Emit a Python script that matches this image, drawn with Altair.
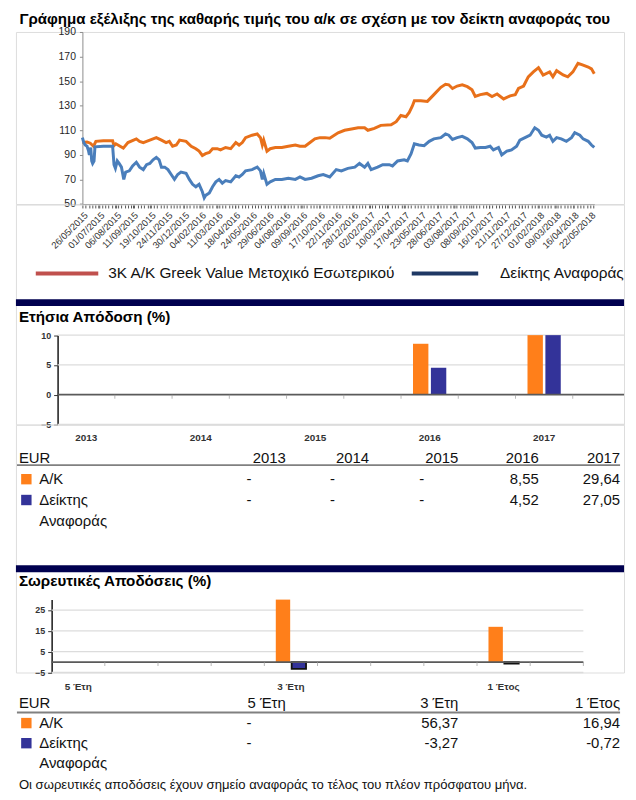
import json
import altair as alt
import pandas as pd

FONT = "Liberation Sans"

TITLE = "Γράφημα εξέλιξης της καθαρής τιμής του α/κ σε σχέση με τον δείκτη αναφοράς του"
FUND_NAME = "3K A/K Greek Value Μετοχικό Εσωτερικού"
BENCH_NAME = "Δείκτης Αναφοράς"
SECTION1 = "Ετήσια Απόδοση (%)"
SECTION2 = "Σωρευτικές Αποδόσεις (%)"
FOOTNOTE = "Οι σωρευτικές αποδόσεις έχουν σημείο αναφοράς το τέλος του πλέον πρόσφατου μήνα."
AK = "A/K"
IDX = "Δείκτης Αναφοράς"

# ---- price evolution ----
ak_dates = ["2015-05-26","2015-06-05","2015-06-12","2015-06-19","2015-06-24","2015-07-10","2015-07-30","2015-08-02","2015-08-06","2015-08-15","2015-08-22","2015-09-01","2015-09-19","2015-09-26","2015-10-04","2015-10-11","2015-10-25","2015-11-01","2015-11-12","2015-11-22","2015-11-29","2015-12-06","2015-12-14","2015-12-21",
            "2016-01-04","2016-01-15","2016-01-25","2016-02-01","2016-02-08","2016-02-15","2016-02-23","2016-03-01","2016-03-11","2016-03-18","2016-03-29","2016-04-09","2016-04-20","2016-04-27","2016-05-04","2016-05-11","2016-05-25","2016-06-05","2016-06-12","2016-06-16","2016-06-19","2016-06-26","2016-07-03","2016-07-14","2016-07-28","2016-08-11","2016-08-26","2016-09-05","2016-09-16","2016-09-23","2016-10-07","2016-10-18","2016-10-29","2016-11-08","2016-11-26","2016-12-10","2016-12-25",
            "2017-01-08","2017-01-22","2017-01-29","2017-02-12","2017-02-26","2017-03-20","2017-03-31","2017-04-10","2017-04-21","2017-04-28","2017-05-05","2017-05-09","2017-05-23","2017-06-06","2017-06-20","2017-07-05","2017-07-15","2017-07-22","2017-07-30","2017-08-09","2017-08-20","2017-08-31","2017-09-10","2017-09-17","2017-09-28","2017-10-12","2017-10-23","2017-11-03","2017-11-17","2017-12-01","2017-12-12","2017-12-19","2017-12-30",
            "2018-01-09","2018-01-20","2018-01-31","2018-02-10","2018-02-24","2018-03-03","2018-03-11","2018-03-25","2018-04-04","2018-04-15","2018-04-26","2018-05-07","2018-05-18","2018-05-25","2018-05-31"]
ak_values = [100,100.5,99.5,97,101,101.5,101.5,97.5,99,97,95.5,100,103,101,100,101,103,104,102,100,101,97,98,102,
             101,97,95,93,89.5,91,92,95,95,94,96,95,100,98,100,104,106,107,104,98,102,93,95,96,96,97,98,97,97,99,103,104,104,103.5,108,110,111,
             112,112,110,111.5,114,114.5,117,122,121,124.5,130,134,134,133.5,139,145,147.5,147,144,146,147,145.5,143,137.5,139,140,137.5,139.5,135.5,138,139,144,146,
             153.5,157.5,161,155,157.5,153.5,158.5,155,153.5,157.5,164.5,163,161.5,160,156]

idx_dates = ["2015-05-26","2015-05-29","2015-06-01","2015-06-05","2015-06-08","2015-06-10","2015-06-13","2015-06-15","2015-06-17","2015-06-20","2015-06-22","2015-07-10","2015-07-30","2015-08-02","2015-08-05","2015-08-09","2015-08-13","2015-08-18","2015-08-23","2015-08-27","2015-09-04","2015-09-11","2015-09-19","2015-09-26","2015-10-04","2015-10-11","2015-10-18","2015-10-25","2015-11-01","2015-11-07","2015-11-12","2015-11-19","2015-11-26","2015-12-03","2015-12-10","2015-12-17","2015-12-24",
             "2016-01-04","2016-01-11","2016-01-18","2016-01-25","2016-02-01","2016-02-08","2016-02-12","2016-02-15","2016-02-23","2016-03-01","2016-03-08","2016-03-15","2016-03-22","2016-03-29","2016-04-09","2016-04-20","2016-04-27","2016-05-04","2016-05-11","2016-05-25","2016-06-05","2016-06-12","2016-06-16","2016-06-19","2016-06-26","2016-07-03","2016-07-14","2016-07-28","2016-08-11","2016-08-26","2016-09-05","2016-09-16","2016-09-30","2016-10-14","2016-10-25","2016-11-08","2016-11-22","2016-12-03","2016-12-17",
             "2017-01-01","2017-01-11","2017-01-22","2017-01-29","2017-02-05","2017-02-19","2017-03-02","2017-03-16","2017-03-23","2017-04-03","2017-04-17","2017-04-24","2017-05-02","2017-05-09","2017-05-19","2017-05-30","2017-06-10","2017-06-20","2017-07-05","2017-07-15","2017-07-22","2017-07-30","2017-08-09","2017-08-20","2017-08-31","2017-09-10","2017-09-17","2017-09-28","2017-10-09","2017-10-19","2017-10-26","2017-11-06","2017-11-13","2017-11-24","2017-12-04","2017-12-15","2017-12-22",
             "2018-01-02","2018-01-13","2018-01-23","2018-01-31","2018-02-07","2018-02-17","2018-02-24","2018-03-03","2018-03-11","2018-03-21","2018-04-01","2018-04-12","2018-04-19","2018-04-30","2018-05-07","2018-05-18","2018-05-25","2018-05-31"]
idx_values = [104,100,98,97,93.5,90,96,85,83,85,96.5,97,97,82,79,85,83,80,70,76,77,81,84,80,78,82,83,86,88,86,80,80,78,74,70,74,76,
              75,70,66,64,66,60,55,57,59,64,68,70,67,69,68,73,72,74,77,78,80,77,70,75,66,68,70,70,71,70,72,70,71,73,74,72,78,77,79,
              80,83,80,83,78,80,82,82,81,85,86,85,91,99,98,97.5,101,103,104,107,106,102.5,104,105,103,100,95.5,96,96,97,94,96,90,93,94,97,102,
              104,106,112,110,106,104.5,106,101,104,103,101,104,108,106,103,101,98,96]

tick_label_dates = ["26/05/2015","01/07/2015","06/08/2015","11/09/2015","19/10/2015","24/11/2015","30/12/2015",
                    "04/02/2016","11/03/2016","18/04/2016","24/05/2016","29/06/2016","04/08/2016","09/09/2016",
                    "17/10/2016","22/11/2016","28/12/2016","02/02/2017","10/03/2017","17/04/2017","23/05/2017",
                    "28/06/2017","03/08/2017","08/09/2017","16/10/2017","21/11/2017","27/12/2017","01/02/2018",
                    "09/03/2018","16/04/2018","22/05/2018"]

# ---- annual returns ----
years = ["2013", "2014", "2015", "2016", "2017"]
ak_annual = [None, None, None, 8.55, 29.64]
idx_annual = [None, None, None, 4.52, 27.05]

# ---- cumulative returns ----
periods = ["5 Έτη", "3 Έτη", "1 Έτος"]
ak_cum = [None, 56.37, 16.94]
idx_cum = [None, -3.27, -0.72]

# ---- styles ----
LINE_OR = "#E8701A"
LINE_BL = "#4A7EBB"
LEG_RED = "#C0504D"
LEG_NAVY = "#1F3864"
BAR_OR = "#FF7F1A"
BAR_BL = "#333399"
NAVY = "#00004F"
TXT = "#111111"

W = 613
H1 = 173.4
H2 = 221.6
H3 = 249.7
YPX = {H2: 6.0, H3: 2.1}


def ms(ts):
    return int(pd.Timestamp(ts).tz_localize("UTC").value // 1_000_000)


def one(text=""):
    return pd.DataFrame({"t": [text]})


def fmt(v):
    return "-" if v is None else f"{v:.2f}".replace(".", ",")


# ================= Panel 1: line chart =================
line_df = pd.concat([
    pd.DataFrame({"date": ak_dates, "value": ak_values, "series": FUND_NAME}),
    pd.DataFrame({"date": idx_dates, "value": idx_values, "series": BENCH_NAME}),
], ignore_index=True)

label_ms = [ms(pd.to_datetime(d, format="%d/%m/%Y")) for d in tick_label_dates]
weekly_ms = [ms(t) for t in pd.date_range("2015-05-26", "2018-05-31", freq="7D")]
tick_values = sorted(set(label_ms + weekly_ms))
labels_js = json.dumps(tick_label_dates, ensure_ascii=False)

xs1 = alt.Scale(type="utc", domain=[ms("2015-05-26"), ms("2018-05-31")], range=[67, 583])
ys1 = alt.Scale(domain=[50, 190], nice=False, zero=False)

lines = alt.Chart(line_df).mark_line(strokeWidth=3).encode(
    x=alt.X("date:T", scale=xs1, axis=alt.Axis(
        values=tick_values,
        labelExpr=f"indexof({labels_js}, utcFormat(datum.value, '%d/%m/%Y')) >= 0 ? utcFormat(datum.value, '%d/%m/%Y') : ''",
        labelAngle=-45, labelOverlap=False, labelFontSize=9.5, labelColor="#333333",
        labelFont=FONT, tickSize=4, tickColor="#555555", domainColor="#8C8C8C",
        labelPadding=2, title=None, grid=False)),
    y=alt.Y("value:Q", scale=ys1, axis=alt.Axis(
        values=list(range(50, 191, 20)), offset=-67, labelFontSize=10.5, labelColor="#262626",
        labelFont=FONT, tickSize=3, tickColor="#8C8C8C", domainColor="#8C8C8C",
        labelPadding=4, title=None, grid=False)),
    color=alt.Color("series:N", scale=alt.Scale(domain=[FUND_NAME, BENCH_NAME], range=[LINE_OR, LINE_BL]), legend=None),
)

frame = alt.Chart(one()).mark_rule(opacity=0, strokeWidth=0.5).encode(
    x=alt.value(-7), x2=alt.value(0), y=alt.value(-20.3))

title = alt.Chart(one(TITLE)).mark_text(align="left", baseline="top", font=FONT,
                                        fontSize=15.2, fontWeight="bold", color="#000000").encode(
    text="t:N", x=alt.value(3.5), y=alt.value(-19.6))

leg_r1 = alt.Chart(one()).mark_rule(color=LEG_RED, strokeWidth=4).encode(
    x=alt.value(20), x2=alt.value(83), y=alt.value(243.4))
leg_t1 = alt.Chart(one(FUND_NAME)).mark_text(align="left", baseline="middle", font=FONT,
                                             fontSize=15.5, color=TXT).encode(
    text="t:N", x=alt.value(93), y=alt.value(243.4))
leg_r2 = alt.Chart(one()).mark_rule(color=LEG_NAVY, strokeWidth=4).encode(
    x=alt.value(399), x2=alt.value(466), y=alt.value(243.4))
leg_t2 = alt.Chart(one(BENCH_NAME)).mark_text(align="left", baseline="middle", font=FONT,
                                              fontSize=15.5, color=TXT).encode(
    text="t:N", x=alt.value(488), y=alt.value(243.4))

p1 = alt.layer(frame, title, lines, leg_r1, leg_t1, leg_r2, leg_t2).properties(width=W, height=H1)

# ================= helpers for bar panels =================
COLX = [272, 356, 446, 527, 609]
ser_color = alt.Scale(domain=[AK, IDX], range=[BAR_OR, BAR_BL])
TXT_STYLE = dict(font=FONT, fontSize=15, color=TXT, baseline="middle")


def section(band_y, title_text, title_y):
    band = alt.Chart(one()).mark_rule(color=NAVY, strokeWidth=7).encode(
        x=alt.value(0), x2=alt.value(W), y=alt.value(band_y))
    ttl = alt.Chart(one(title_text)).mark_text(align="left", baseline="middle", font=FONT,
                                               fontSize=15.3, fontWeight="bold", color="#000000").encode(
        text="t:N", x=alt.value(3), y=alt.value(title_y))
    return [band, ttl]


def table(headers, cis, ak_vals, idx_vals, row_range, line_y):
    rows_sc = alt.Scale(type="point", domain=[0, 1, 2, 3], range=row_range, padding=0)
    col_sc = alt.Scale(domain=[0, 1, 2, 3, 4], range=COLX)
    cells = []
    for ci, h in zip(cis, headers):
        cells.append({"ci": ci, "row": 0, "t": h, "dash": False})
    for r, vals in ((1, ak_vals), (2, idx_vals)):
        for ci, v in zip(cis, vals):
            cells.append({"ci": ci, "row": r, "t": fmt(v), "dash": v is None})
    df = pd.DataFrame(cells)
    enc = dict(x=alt.X("ci:Q", scale=col_sc, axis=None),
               y=alt.Y("row:O", scale=rows_sc, axis=None), text="t:N")
    nums = alt.Chart(df[~df["dash"]].drop(columns="dash")).mark_text(align="right", **TXT_STYLE).encode(**enc)
    dashes = alt.Chart(df[df["dash"]].drop(columns="dash")).mark_text(align="center", dx=-37, **TXT_STYLE).encode(**enc)
    idx_words = IDX.split(" ")
    labs = alt.Chart(pd.DataFrame({"row": [1, 2, 3], "t": [AK, idx_words[0], idx_words[1]]})).mark_text(
        align="left", **TXT_STYLE).encode(
        x=alt.value(23.5), y=alt.Y("row:O", scale=rows_sc, axis=None), text="t:N")
    eur = alt.Chart(pd.DataFrame({"row": [0], "t": ["EUR"]})).mark_text(align="left", **TXT_STYLE).encode(
        x=alt.value(3), y=alt.Y("row:O", scale=rows_sc, axis=None), text="t:N")
    sq = alt.Chart(pd.DataFrame({"row": [1, 2], "series": [AK, IDX]})).mark_square(size=110, opacity=1).encode(
        x=alt.value(10.5), y=alt.Y("row:O", scale=rows_sc, axis=None),
        color=alt.Color("series:N", scale=ser_color, legend=None))
    hline = alt.Chart(one()).mark_rule(color="#808080", strokeWidth=1.8).encode(
        x=alt.value(1), x2=alt.value(609), y=alt.value(line_y))
    return [hline, eur, labs, sq, nums, dashes]


def bar_panel(H, slots, cats, ak_vals, idx_vals, xrange, ydom, yvals, pad_outer, bar_size,
              tick_slots, label_pad, grid_x2, outline):
    span = ydom[1] - ydom[0]
    ys = alt.Scale(domain=ydom, range=[H, H - span * YPX[H]], clamp=True, nice=False, zero=False)
    xs = alt.Scale(type="band", domain=slots, range=xrange, paddingInner=0, paddingOuter=0)
    bar_df = pd.DataFrame({"slot": cats * 2, "series": [AK] * len(cats) + [IDX] * len(cats),
                           "value": ak_vals + idx_vals}).dropna()
    grid_df = pd.DataFrame({"g": [v for v in yvals if v != 0]})
    grid = alt.Chart(grid_df).mark_rule(color="#DCDCDC", strokeWidth=1.3).encode(
        y=alt.Y("g:Q", scale=ys, axis=None), x=alt.value(xrange[0]), x2=alt.value(grid_x2))
    enc = dict(
        x=alt.X("slot:N", scale=xs, axis=alt.Axis(
            labelExpr="indexof(datum.value, '_') == 0 ? '' : datum.value", ticks=False, domain=False,
            labelFontSize=10, labelFontWeight="bold", labelColor="#333333", labelFont=FONT,
            labelPadding=label_pad, labelAngle=0, title=None, grid=False)),
        xOffset=alt.XOffset("series:N", scale=alt.Scale(domain=[AK, IDX], paddingOuter=pad_outer, paddingInner=0)),
        y=alt.Y("value:Q", scale=ys, axis=alt.Axis(
            values=yvals, offset=-xrange[0], labelFontSize=9, labelFontWeight="bold",
            labelColor="#333333", labelFont=FONT, tickSize=4, tickColor="#333333",
            domainColor="#262626", domainWidth=1.6, labelPadding=3, title=None, grid=False)),
        color=alt.Color("series:N", scale=ser_color, legend=None),
    )
    if outline:
        bars = alt.Chart(bar_df).mark_bar(strokeWidth=1.8, size=bar_size).encode(
            stroke=alt.condition(alt.datum.series == IDX, alt.value("#111111"), alt.value("transparent")), **enc)
    else:
        bars = alt.Chart(bar_df).mark_bar(size=bar_size).encode(**enc)
    zero = alt.Chart(pd.DataFrame({"g": [0]})).mark_rule(color="#5A5A5A", strokeWidth=1.8).encode(
        y=alt.Y("g:Q", scale=ys, axis=None), x=alt.value(xrange[0]), x2=alt.value(grid_x2))
    ticks = alt.Chart(pd.DataFrame({"slot": tick_slots, "z": [0] * len(tick_slots)})).mark_tick(
        orient="vertical", size=4, thickness=1, yOffset=2, color="#9A9A9A").encode(
        x=alt.X("slot:N", scale=xs, bandPosition=1, axis=None),
        y=alt.Y("z:Q", scale=ys, axis=None))
    return [grid, bars, zero, ticks]


# ================= Panel 2: annual returns =================
slots1 = ["2013", "_1", "2014", "_2", "2015", "_3", "2016", "_4", "2017", "_5"]
p2_layers = (section(98.8, SECTION1, 113.3)
             + bar_panel(H2, slots1, years, ak_annual, idx_annual, [42, 619], [-5, 10], [-5, 0, 5, 10],
                         0.6, 15.5, slots1[:9], 8, W, False)
             + table(years, [0, 1, 2, 3, 4], ak_annual, idx_annual, [255.8, 318.8], 262.6))
p2 = alt.layer(*p2_layers).properties(width=W, height=H2).resolve_scale(
    x="independent", y="independent", xOffset="independent")

# ================= Panel 3: cumulative returns =================
slots3 = ["5 Έτη", "_1", "_2", "_3", "3 Έτη", "_5", "_6", "_7", "1 Έτος", "_9"]
foot = alt.Chart(one(FOOTNOTE)).mark_text(align="left", baseline="middle", font=FONT,
                                          fontSize=13.2, color=TXT).encode(
    text="t:N", x=alt.value(3), y=alt.value(363.4))
p3_layers = (section(145, SECTION2, 157.2)
             + bar_panel(H3, slots3, periods, ak_cum, idx_cum, [36, 572], [-5, 30], [-5, 5, 15, 25],
                         0.675, 14.5, slots3, 9, 572, True)
             + table(periods, [0, 2, 4], ak_cum, idx_cum, [280.4, 341.2], 290)
             + [foot])
p3 = alt.layer(*p3_layers).properties(width=W, height=H3).resolve_scale(
    x="independent", y="independent", xOffset="independent")

chart = alt.vconcat(p1, p2, p3, spacing=0, bounds="flush").resolve_scale(
    color="independent"
).properties(
    padding={"left": 0, "top": 0, "right": 0, "bottom": 0}
).configure_view(stroke=None).configure(font=FONT)

chart.save("out.html", embed_options={"renderer": "svg", "actions": False})
